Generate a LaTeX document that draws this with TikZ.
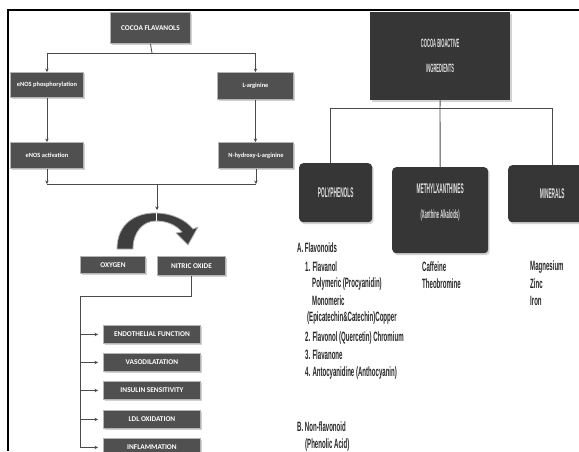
\documentclass[tikz,border=0pt]{standalone}
\usepackage{fontspec}
\setsansfont{Carlito}
\newfontfamily\narrowfont[FakeStretch=0.45]{Liberation Sans}
\newfontfamily\tallfont[FakeStretch=0.34]{Liberation Sans}
\usetikzlibrary{arrows.meta,shadows}
\definecolor{lfill}{HTML}{505050}
\definecolor{ledge}{HTML}{B4B4B4}
\definecolor{rfill}{HTML}{363636}
\definecolor{conncol}{HTML}{4A4A4A}
\definecolor{listcol}{HTML}{262626}
\definecolor{bandcol}{HTML}{3E3E3E}
\begin{document}
\begin{tikzpicture}[x=1pt,y=-1pt,
  lbox/.style={rectangle, fill=lfill, draw=ledge, line width=0.9pt, text=white,
    font=\sffamily\bfseries\fontsize{6.4}{7}\selectfont, inner sep=0pt, anchor=north west,
    drop shadow={shadow xshift=1.3pt, shadow yshift=-1.3pt, fill=black!25, opacity=0.7}},
  capsbox/.style={lbox, font=\sffamily\bfseries\fontsize{7.3}{8}\selectfont},
  rbox/.style={rectangle, rounded corners=4pt, fill=rfill, draw=none, text=white!88!black,
    font=\tallfont\bfseries\fontsize{14}{16}\selectfont, align=center, inner sep=0pt, anchor=north west,
    drop shadow={shadow xshift=1.5pt, shadow yshift=-2pt, fill=black!25, opacity=0.7}},
  conn/.style={draw=conncol, line width=0.8pt},
  arr/.style={conn, -{Stealth[length=3.5pt,width=3.5pt]}},
  rconn/.style={draw=conncol, line width=0.9pt},
  listtxt/.style={anchor=west, inner sep=0pt, text=listcol, font=\narrowfont\bfseries\fontsize{13.5}{15}\selectfont},
  frame/.style={draw=black, line width=2.3pt}]

\useasboundingbox (0,0) rectangle (579,451);
\fill[white] (0,0) rectangle (579,451);

% ---------- left panel: flavanol pathway ----------
\node[capsbox, minimum width=80pt, minimum height=31pt] (cf) at (110,12) {COCOA FLAVANOLS};
\node[lbox, minimum width=73pt, minimum height=25pt] (ep) at (10,72) {eNOS phosphorylation};
\node[lbox, minimum width=76pt, minimum height=27pt] (la) at (217,72) {L-arginine};
\node[lbox, minimum width=73pt, minimum height=26pt] (ea) at (10,142) {eNOS activation};
\node[lbox, minimum width=75pt, minimum height=26pt] (nh) at (218,142) {N-hydroxy-L-arginine};

\coordinate (split) at (152,53);
\draw[conn] (cf.south) -- (split);
\draw[arr] (split) -| (ep.north);
\draw[arr] (split) -| (la.north);
\draw[arr] (ep.south) -- (ea.north);
\draw[arr] (la.south) -- (la.south |- nh.north);

\coordinate (merge) at (157,184);
\coordinate (arcin) at (157,210);
\draw[arr] (ea.south) -- (ea.south |- merge);
\draw[arr] (nh.south) -- (nh.south |- merge);
\draw[conn] (ea.south |- merge) -- (nh.south |- merge);

% curved conversion arrow (band with its head)
\filldraw[fill=bandcol, draw=ledge, line width=0.8pt, line join=round]
  (117,249) .. controls (117,224) and (135,213) .. (155,213)
  .. controls (172,213) and (186,220) .. (193,229)
  -- (198,227) -- (188,245) -- (176,233) -- (182,232)
  .. controls (176,225) and (167,221) .. (156,221)
  .. controls (143,221) and (133,232) .. (133,249) -- cycle;
\draw[white, line width=1pt] (156,213) -- (156,221);
\draw[arr] (merge) -- (arcin);

\node[capsbox, minimum width=65pt, minimum height=17pt] (ox) at (80,256) {OXYGEN};
\node[capsbox, minimum width=68pt, minimum height=19pt] (no) at (157,256) {NITRIC OXIDE};

\node[capsbox, minimum width=97pt, minimum height=18pt] (e1) at (103,325) {ENDOTHELIAL FUNCTION};
\node[capsbox, minimum width=97pt, minimum height=18pt] (e2) at (103,353) {VASODILATATION};
\node[capsbox, minimum width=97pt, minimum height=18pt] (e3) at (103,381) {INSULIN SENSITIVITY};
\node[capsbox, minimum width=97pt, minimum height=18pt] (e4) at (103,410) {LDL OXIDATION};
\node[capsbox, minimum width=97pt, minimum height=18pt] (e5) at (103,438) {INFLAMMATION};

\coordinate (bus) at (80,296);
\draw[conn] (no.south) -- (no.south |- bus) -- (bus) -- (bus |- e5.west);
\foreach \e in {e1,e2,e3,e4,e5}
  \draw[arr] (bus |- \e.west) -- ([xshift=-5pt]\e.west);

% ---------- right panel: bioactive ingredients ----------
\node[rbox, rounded corners=0pt, minimum width=140pt, minimum height=88pt,
  font=\tallfont\bfseries\fontsize{12}{13}\selectfont] (cb) at (370,12) {COCOA BIOACTIVE\\[12pt]INGREDIENTS};
\node[rbox, minimum width=73pt, minimum height=59pt] (pp) at (299,163) {POLYPHENOLS};
\node[rbox, minimum width=96pt, minimum height=86pt] (mx) at (392,167)
  {METHYLXANTHINES\\[9pt]{\fontsize{12}{13}\selectfont(Xanthine Alkaloids)}\\[3pt]\mbox{}};
\node[rbox, minimum width=88pt, minimum height=57pt] (mn) at (508,165) {MINERALS};

\coordinate (tree) at (440,108);
\draw[rconn] (cb.south) -- (tree);
\draw[rconn] (tree) -| ([xshift=-5pt]pp.north);
\draw[rconn] (tree) -- (mx.north);
\draw[rconn] (tree) -| (mn.north);

% polyphenol classes
\node[listtxt] (pa)  at (297,248) {A. Flavonoids};
\node[listtxt] (pa1) at (305,267) {1. Flavanol};
\node[listtxt] (pa1a) at (312,284) {Polymeric (Procyanidin)};
\node[listtxt] (pa1b) at (312,301) {Monomeric};
\node[listtxt] (pa1c) at (307,318) {(Epicatechin\&Catechin)Copper};
\node[listtxt] (pa2) at (305,338) {2. Flavonol (Quercetin) Chromium};
\node[listtxt] (pa3) at (305,355) {3. Flavanone};
\node[listtxt] (pa4) at (305,373) {4. Antocyanidine (Anthocyanin)};
\node[listtxt] (pb)  at (297,427) {B. Non-flavonoid};
\node[listtxt] (pb1) at (305,445) {(Phenolic Acid)};

% methylxanthines
\node[listtxt] (m1) at (422,267) {Caffeine};
\node[listtxt] (m2) at (422,284) {Theobromine};

% minerals
\node[listtxt] (n1) at (530,267) {Magnesium};
\node[listtxt] (n2) at (530,284) {Zinc};
\node[listtxt] (n3) at (530,301) {Iron};

% outer frame
\draw[frame] (8,451) -- (8,10) -- (579,10);
\end{tikzpicture}
\end{document}
